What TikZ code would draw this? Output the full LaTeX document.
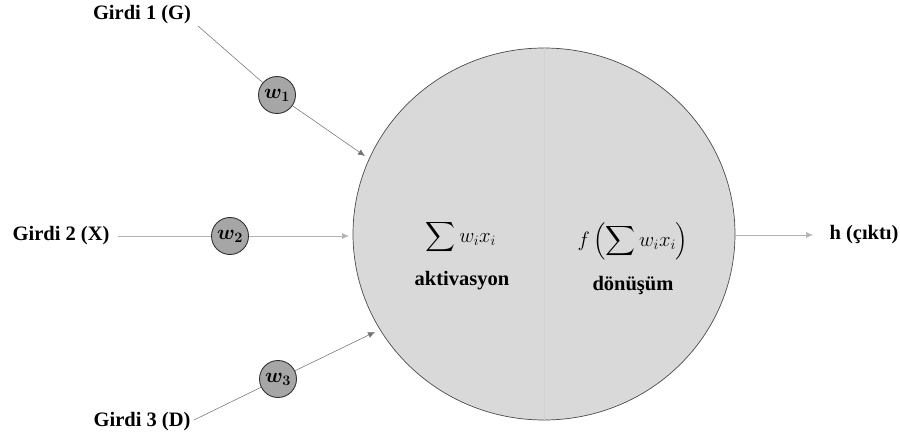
\documentclass[tikz,border=0pt]{standalone}
\usepackage{amsmath}
\usepackage{bm}
\usepackage{fontspec}
\setmainfont{Liberation Serif}
\newfontfamily\tnrfont{Liberation Serif}[BoldFont={Liberation Serif Bold}]
\usetikzlibrary{arrows.meta,shapes.geometric}
\definecolor{neuronfill}{HTML}{D9D9D9}
\definecolor{wfill}{HTML}{A6A6A6}
\tikzset{
  lbl/.style={font=\tnrfont\bfseries\fontsize{20.5}{24}\selectfont, inner sep=0pt},
  wnode/.style={circle, draw=black!80, line width=0.9pt, fill=wfill, minimum size=37pt, inner sep=0pt, font=\fontsize{21}{24}\selectfont},
  conn/.style={draw=black!55, line width=0.55pt},
  arr/.style={conn, -{Latex[length=7pt,width=6pt]}},
  mathtxt/.style={font=\fontsize{19.5}{23}\selectfont, inner sep=0pt},
}
\begin{document}
\begin{tikzpicture}[x=1pt,y=-1pt]
\useasboundingbox (0,0) rectangle (900,441);
% neuron
\node[draw=black!70, line width=0.7pt, fill=neuronfill, ellipse, minimum width=382pt, minimum height=372pt, inner sep=0pt] (neuron) at (544,234) {};
\draw[draw=black!18, line width=0.6pt] (neuron.north) -- (neuron.south);
% inner texts
\node[mathtxt] (act) at (461,237) {$\displaystyle\sum w_i x_i$};
\node[lbl] (actl) at (462,281) {aktivasyon};
\node[mathtxt] (tr) at (633,241) {$\displaystyle f\left(\sum w_i x_i\right)$};
\node[lbl] (trl) at (633,285) {dönüşüm};
% inputs
\node[lbl, anchor=center] (g1) at (142,15) {Girdi 1 (G)};
\node[lbl, anchor=center] (g2) at (61,236) {Girdi 2 (X)};
\node[lbl, anchor=center] (g3) at (142,422) {Girdi 3 (D)};
\node[lbl, anchor=center] (h) at (864,235) {h (çıktı)};
% weights
\node[wnode] (w1) at (277,95) {$\bm{w_1}$};
\node[wnode] (w2) at (230,236) {$\bm{w_2}$};
\node[wnode] (w3) at (278,379) {$\bm{w_3}$};
% free ends
\coordinate (t1) at (365,156);
\coordinate (t2) at (349,236);
\coordinate (t3) at (375,332);
\coordinate (s1) at (198,26);
\coordinate (s2) at (118,236);
\coordinate (s3) at (194,420);
\coordinate (o1) at (735,235);
\coordinate (t4) at (813,235);
% connectors
\draw[conn] (s1) -- (w1);
\draw[arr] (w1) -- (t1);
\draw[conn, draw=black!30] (s2) -- (w2);
\draw[arr, draw=black!30] (w2) -- (t2);
\draw[conn] (s3) -- (w3);
\draw[arr] (w3) -- (t3);
\draw[arr, draw=black!30] (o1) -- (t4);
\end{tikzpicture}
\end{document}
